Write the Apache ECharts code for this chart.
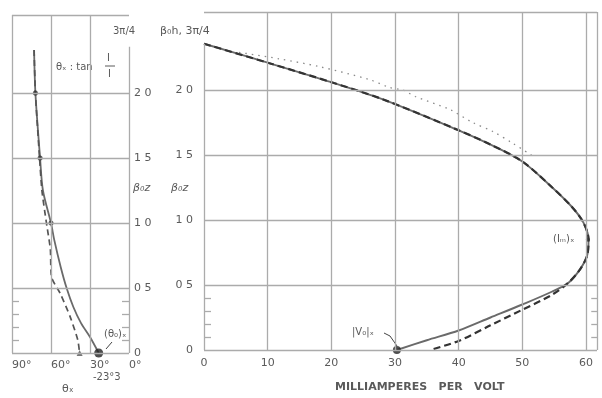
<!DOCTYPE html>
<html><head><meta charset="utf-8">
<script src="https://cdn.jsdelivr.net/npm/echarts@6/dist/echarts.min.js"></script>
<style>html,body{margin:0;padding:0;background:#fff}#c{width:602px;height:398px}</style>
</head><body><div id="c"></div><script>
// ---- data ----
const thetaTicks = [0, 30, 60, 90];
const bzTicks = [0, 0.5, 1.0, 1.5, 2.0];
const maTicks = [0, 10, 20, 30, 40, 50, 60];
const minorBz = [0.1, 0.2, 0.3, 0.4];
const bzTop = 2.356;      // 3π/4
const bzFrame = 2.6;      // top of frame
const maFrame = 61.73;    // right frame edge
// left panel: theta (deg) vs beta0 z
const leftSolid = [[73,2.33],[72,2.0],[68.4,1.5],[66.2,1.25],[60,1.0],[57.5,0.87],[52.5,0.66],[48,0.5],[42.8,0.354],[36.9,0.23],[30,0.123],[23.3,0]];
const leftDashed = [[73,2.33],[72,2.0],[68.8,1.5],[67,1.25],[63.5,1.0],[60.5,0.8],[59.5,0.58],[53,0.46],[45.3,0.28],[39.4,0.1],[38,0]];
const leftDots = [[72,2.0],[68.4,1.5],[60,1.0]];
const leftTheta0 = [[23.3,0]];
const leftDashEnd = [[38,0]];
// right panel: milliamperes per volt vs beta0 z
const rightSolid = [[0,2.356],[10,2.21],[20,2.06],[28,1.93],[40,1.69],[45,1.58],[50,1.45],[54.7,1.25],[57.8,1.10],[59.6,0.98],[60.4,0.85],[60.2,0.73],[59.2,0.63],[57.3,0.52],[54.7,0.45],[50,0.35],[45,0.25],[40,0.15],[35,0.075],[30.3,0]];
const rightDashed = [[0,2.356],[10,2.21],[20,2.06],[28,1.93],[40,1.69],[45,1.58],[50,1.45],[54.7,1.25],[57.8,1.10],[59.6,0.98],[60.4,0.85],[60.2,0.73],[59.2,0.63],[57.3,0.52],[54.5,0.42],[50,0.31],[45,0.19],[40,0.07],[35.5,0]];
const rightDotted = [[5.5,2.29],[11.8,2.24],[18.1,2.18],[26,2.08],[29.1,2.02],[31.2,2.0],[33.2,1.95],[38.6,1.85],[42.2,1.75],[45.4,1.68],[48.5,1.59],[51.7,1.49]];
const rightV0 = [[30.3,0]];
const rightIm = [[60.3,0.85]];

// ---- helpers ----
const GRID = '#ababab';
const TXT = '#5a5a5a';
const FONT = 'DejaVu Sans';
function seg(a, b) { return [{coord: a}, {coord: b}]; }
function fmtBz(v) { return bzTicks.includes(v) ? (v === 0 ? '0' : v.toFixed(1).replace('.', ' ')) : ''; }

const leftLines = [];
thetaTicks.forEach(t => { if (t !== 0) leftLines.push(seg([t, 0], [t, bzFrame])); });
leftLines.push(seg([0, 0], [0, bzTop]));
bzTicks.forEach(b => leftLines.push(seg([90, b], [0, b])));
leftLines.push(seg([90, bzFrame], [0, bzFrame]));
minorBz.forEach(b => { leftLines.push(seg([0, b], [5.4, b])); leftLines.push(seg([90, b], [84.6, b])); });

const rightLines = [];
maTicks.forEach(m => { if (m !== 0) rightLines.push(seg([m, 0], [m, bzFrame])); });
rightLines.push(seg([maFrame, 0], [maFrame, bzFrame]));
rightLines.push(seg([0, 0], [0, bzTop]));
bzTicks.forEach(b => rightLines.push(seg([0, b], [maFrame, b])));
rightLines.push(seg([0, bzFrame], [maFrame, bzFrame]));
minorBz.forEach(b => { rightLines.push(seg([0, b], [1.1, b])); rightLines.push(seg([maFrame, b], [maFrame - 0.9, b])); });

const chart = echarts.init(document.getElementById('c'), null, {renderer: 'canvas'});
const axisLbl = {color: TXT, fontFamily: FONT, fontSize: 11};
chart.setOption({
  animation: false,
  backgroundColor: '#fff',
  grid: [
    {left: 12, width: 117, top: 15, height: 338},
    {left: 204, width: 393, top: 12, height: 338}
  ],
  xAxis: [
    {gridIndex: 0, type: 'value', inverse: true, min: 0, max: 90, interval: 30,
     axisLine: {show: false}, axisTick: {show: false}, splitLine: {show: false},
     axisLabel: Object.assign({}, axisLbl, {margin: 7, align: 'left', formatter: v => v + '°'})},
    {gridIndex: 1, type: 'value', min: 0, max: maFrame, interval: 10,
     axisLine: {show: false}, axisTick: {show: false}, splitLine: {show: false},
     axisLabel: Object.assign({}, axisLbl, {margin: 8, formatter: v => (maTicks.includes(v) ? String(v) : '')})}
  ],
  yAxis: [
    {gridIndex: 0, type: 'value', min: 0, max: bzFrame, interval: 0.5, position: 'right',
     axisLine: {show: false}, axisTick: {show: false}, splitLine: {show: false},
     axisLabel: Object.assign({}, axisLbl, {margin: 5, formatter: fmtBz})},
    {gridIndex: 1, type: 'value', min: 0, max: bzFrame, interval: 0.5, position: 'left',
     axisLine: {show: false}, axisTick: {show: false}, splitLine: {show: false},
     axisLabel: Object.assign({}, axisLbl, {margin: 11, formatter: fmtBz})}
  ],
  series: [
    {type: 'line', xAxisIndex: 0, yAxisIndex: 0, data: [[90, 0]], showSymbol: false, lineStyle: {opacity: 0}, z: 1,
     markLine: {silent: true, symbol: 'none', label: {show: false}, lineStyle: {color: GRID, width: 1.3, type: 'solid'}, data: leftLines}},
    {type: 'line', xAxisIndex: 1, yAxisIndex: 1, data: [[0, 0]], showSymbol: false, lineStyle: {opacity: 0}, z: 1,
     markLine: {silent: true, symbol: 'none', label: {show: false}, lineStyle: {color: GRID, width: 1.3, type: 'solid'}, data: rightLines}},
    {type: 'line', xAxisIndex: 0, yAxisIndex: 0, data: leftSolid, smooth: 0.3, showSymbol: false, z: 3,
     lineStyle: {color: '#6a6a6a', width: 1.8}},
    {type: 'line', xAxisIndex: 0, yAxisIndex: 0, data: leftDashed, smooth: 0.2, showSymbol: false, z: 3,
     lineStyle: {color: '#555', width: 1.7, type: [6, 4]}},
    {type: 'scatter', xAxisIndex: 0, yAxisIndex: 0, data: leftDots, symbolSize: 5, itemStyle: {color: '#333'}, z: 4},
    {type: 'scatter', xAxisIndex: 0, yAxisIndex: 0, data: leftTheta0, symbolSize: 9, itemStyle: {color: '#222'}, z: 4},
    {type: 'scatter', xAxisIndex: 0, yAxisIndex: 0, data: leftDashEnd, symbol: 'triangle', symbolSize: 6, itemStyle: {color: '#555'}, z: 4},
    {type: 'line', xAxisIndex: 1, yAxisIndex: 1, data: rightDotted, smooth: 0.3, showSymbol: false, z: 2,
     lineStyle: {color: '#8a8a8a', width: 1.3, type: [1.5, 5]}},
    {type: 'line', xAxisIndex: 1, yAxisIndex: 1, data: rightSolid, smooth: 0.3, showSymbol: false, z: 3,
     lineStyle: {color: '#6a6a6a', width: 1.9}},
    {type: 'line', xAxisIndex: 1, yAxisIndex: 1, data: rightDashed, smooth: 0.3, showSymbol: false, z: 3,
     lineStyle: {color: '#333', width: 2.2, type: [7, 4]}},
    {type: 'scatter', xAxisIndex: 1, yAxisIndex: 1, data: rightV0, symbolSize: 8, itemStyle: {color: '#222'}, z: 4},
    {type: 'scatter', xAxisIndex: 1, yAxisIndex: 1, data: rightIm, symbolSize: 4, itemStyle: {color: '#333'}, z: 4}
  ],
  graphic: [
    {type: 'text', left: 113, top: 26, style: {text: '3π/4', fill: TXT, font: '10px "DejaVu Sans"'}},
    {type: 'text', left: 160, top: 26, style: {text: 'β₀h, 3π/4', fill: TXT, font: '11px "DejaVu Sans"'}},
    {type: 'text', left: 56, top: 62, style: {text: 'θₓ : tan', fill: TXT, font: '10px "DejaVu Sans"'}},
    {type: 'text', left: 107, top: 53, style: {text: 'I', fill: TXT, font: '10px "DejaVu Sans"'}},
    {type: 'line', shape: {x1: 105, y1: 66, x2: 115, y2: 66}, style: {stroke: TXT, lineWidth: 1}},
    {type: 'text', left: 108, top: 69, style: {text: 'I', fill: TXT, font: '10px "DejaVu Sans"'}},
    {type: 'text', left: 133, top: 183, style: {text: 'β₀z', fill: TXT, font: 'italic 11px "DejaVu Sans"'}},
    {type: 'text', left: 171, top: 183, style: {text: 'β₀z', fill: TXT, font: 'italic 11px "DejaVu Sans"'}},
    {type: 'text', left: 104, top: 329, style: {text: '(θ₀)ₓ', fill: TXT, font: '10px "DejaVu Sans"'}},
    {type: 'polyline', shape: {points: [[112, 342], [106, 349]]}, style: {stroke: '#444', lineWidth: 1}},
    {type: 'text', left: 93, top: 372, style: {text: '-23°3', fill: TXT, font: '10px "DejaVu Sans"'}},
    {type: 'text', left: 62, top: 384, style: {text: 'θₓ', fill: TXT, font: '11px "DejaVu Sans"'}},
    {type: 'text', left: 352, top: 327, style: {text: '|V₀|ₓ', fill: TXT, font: '10px "DejaVu Sans"'}},
    {type: 'polyline', shape: {points: [[384, 333], [390, 336], [397, 346]]}, style: {stroke: '#444', lineWidth: 1}},
    {type: 'text', left: 553, top: 234, style: {text: '(Iₘ)ₓ', fill: TXT, font: '10px "DejaVu Sans"'}},
    {type: 'text', left: 335, top: 382, style: {text: 'MILLIAMPERES   PER   VOLT', fill: TXT, font: 'bold 11px "DejaVu Sans"'}}
  ]
});
</script></body></html>
